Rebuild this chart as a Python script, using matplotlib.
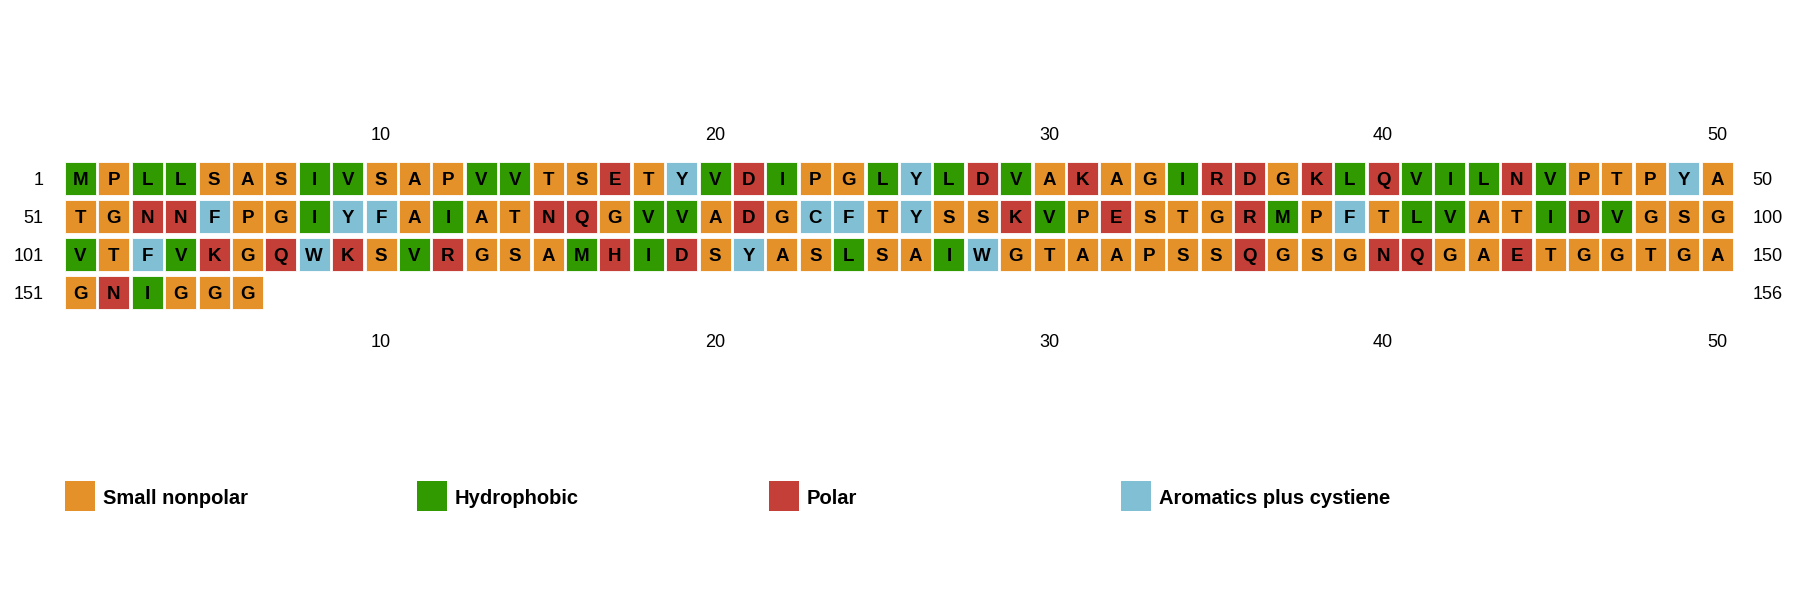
import matplotlib
matplotlib.use("Agg")
import matplotlib.pyplot as plt
from matplotlib.patches import Rectangle

# Sequence (156 residues), shown 50 per row
SEQUENCE = ("MPLLSASIVSAPVVTSETYVDIPGLYLDVAKAGIRDGKLQVILNVPTPYA"
            "TGNNFPGIYFAIATNQGVVADGCFTYSSKVPESTGRMPFTLVATIDVGSG"
            "VTFVKGQWKSVRGSAMHIDSYASLSAIWGTAAPSSQGSGNQGAETGGTGA"
            "GNIGGG")
PER_ROW = 50
TICKS = [10, 20, 30, 40, 50]

GROUP_NAMES = ["Small nonpolar", "Hydrophobic", "Polar", "Aromatics plus cystiene"]
GROUP_LETTERS = ["GASTP", "MILV", "NQDEKRH", "FYWC"]
GROUP_COLORS = ["#e4912a", "#319a00", "#c33f37", "#80bfd4"]

FONT = "Liberation Sans"

color_of = {}
for letters, col in zip(GROUP_LETTERS, GROUP_COLORS):
    for ch in letters:
        color_of[ch] = col

fig = plt.figure(figsize=(18, 6), dpi=100)
ax = fig.add_axes([0, 0, 1, 1])
# one x unit = one residue column, one y unit = one sequence row
ax.set_xlim(-65 / 33.4, (1800 - 65) / 33.4)
ax.set_ylim((600 - 162) / 38, -162 / 38)
ax.axis("off")

cw, ch_ = 0.93, 0.87
n_rows = (len(SEQUENCE) + PER_ROW - 1) // PER_ROW
for i, aa in enumerate(SEQUENCE):
    r, c = divmod(i, PER_ROW)
    ax.add_patch(Rectangle((c, r), cw, ch_, facecolor=color_of[aa],
                           edgecolor="white", linewidth=0.6))
    ax.text(c + cw / 2, r + ch_ / 2, aa, ha="center", va="center_baseline",
            fontsize=13.5, fontweight="bold", family=FONT, color="black")

# row start / end numbers
for r in range(n_rows):
    start = r * PER_ROW + 1
    end = min((r + 1) * PER_ROW, len(SEQUENCE))
    ax.text(-0.65, r + ch_ / 2, str(start), ha="right", va="center_baseline",
            fontsize=13, family=FONT)
    ax.text(PER_ROW + 0.52, r + ch_ / 2, str(end), ha="left", va="center_baseline",
            fontsize=13, family=FONT)

# column ticks above and below
for t in TICKS:
    ax.text(t - 1 + cw / 2, -0.74, str(t), ha="center", va="center_baseline",
            fontsize=13, family=FONT)
    ax.text(t - 1 + cw / 2, n_rows + 0.71, str(t), ha="center", va="center_baseline",
            fontsize=13, family=FONT)

# legend
leg_y = 8.39
for k, (name, col) in enumerate(zip(GROUP_NAMES, GROUP_COLORS)):
    x0 = k * 10.535
    ax.add_patch(Rectangle((x0, leg_y), 0.9, 0.79, facecolor=col, edgecolor="none"))
    ax.text(x0 + 1.14, leg_y + 0.4, name, ha="left", va="center_baseline",
            fontsize=14.5, fontweight="bold", family=FONT)

fig.savefig("out.png", dpi=100)
